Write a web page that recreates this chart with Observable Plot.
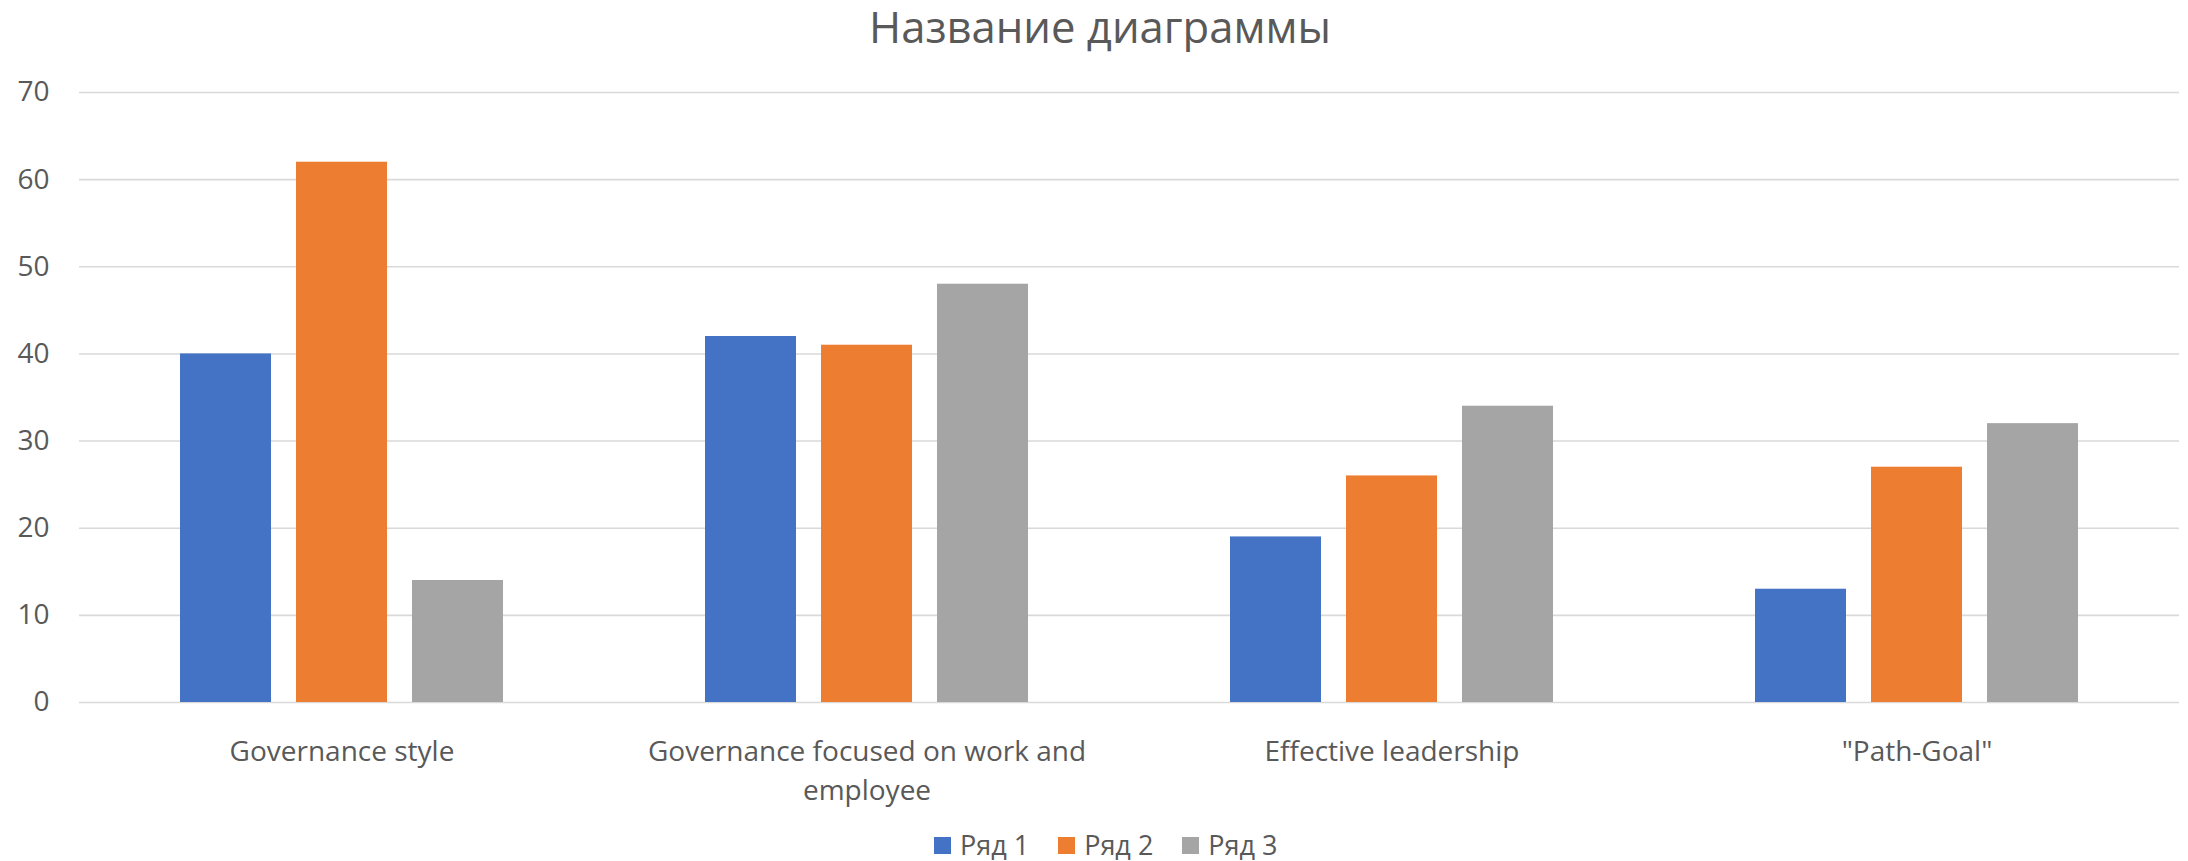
<!DOCTYPE html>
<html>
<head>
<meta charset="utf-8">
<script src="https://cdn.jsdelivr.net/npm/d3@7"></script>
<script src="https://cdn.jsdelivr.net/npm/@observablehq/plot@0.6"></script>
<style>
  html, body { margin: 0; padding: 0; background: #fff; }
  body { width: 2188px; height: 861px; overflow: hidden; position: relative; font-family: "Open Sans", "Noto Sans", sans-serif; color: #595959; }
  #title { position: absolute; top: 0; left: 0; width: 2188px; padding-left: 12px; box-sizing: border-box; text-align: center; font-size: 43.6px; line-height: 52px; color: #595959; }
  #chart { position: absolute; top: 52px; left: 0; }
  #legend { position: absolute; left: 934px; top: 827px; display: flex; align-items: center; font-size: 27px; line-height: 36px; color: #595959; }
  .item { display: flex; align-items: center; margin-right: 29px; }
  .sw { width: 17px; height: 17px; margin-right: 9px; }
</style>
</head>
<body>
<div id="title">Название диаграммы</div>
<div id="chart"></div>
<div id="legend"></div>
<script>
const categories = ["Governance style", "Governance focused on work and employee", "Effective leadership", "\"Path-Goal\""];
const categoryLabels = ["Governance style", "Governance focused on work and\nemployee", "Effective leadership", "\"Path-Goal\""];
const seriesNames = ["Ряд 1", "Ряд 2", "Ряд 3"];
const series1 = [40, 42, 19, 13];
const series2 = [62, 41, 26, 27];
const series3 = [14, 48, 34, 32];
const colors = ["#4472c4", "#ed7d31", "#a5a5a5"];
const yTicks = [0, 10, 20, 30, 40, 50, 60, 70];

const allSeries = [series1, series2, series3];
const data = categories.flatMap((c, i) => allSeries.map((s, j) => ({category: c, series: seriesNames[j], value: s[i]})));

const chart = Plot.plot({
  width: 2188,
  height: 770,
  marginLeft: 77,
  marginRight: 8,
  marginTop: 40,
  marginBottom: 120,
  style: {fontFamily: "'Open Sans', 'Noto Sans', sans-serif", color: "#595959", background: "white", overflow: "visible"},
  fx: {domain: categories, padding: 0},
  x: {domain: seriesNames, paddingInner: 0.2146, paddingOuter: 0.864, axis: null},
  y: {domain: [0, 70]},
  color: {domain: seriesNames, range: colors},
  marks: [
    Plot.gridY(yTicks, {stroke: "#d9d9d9", strokeOpacity: 1, strokeWidth: 1.6}),
    Plot.axisY(yTicks, {tickSize: 0, tickPadding: 30, fontSize: 28, label: null, fill: "#595959"}),
    Plot.axisFx({anchor: "bottom", tickSize: 0, tickPadding: 31, fontSize: 28, label: null, lineHeight: 1.39, fill: "#595959",
      tickFormat: d => categoryLabels[categories.indexOf(d)]}),
    Plot.barY(data, {fx: "category", x: "series", y: "value", fill: "series"})
  ]
});
document.getElementById("chart").appendChild(chart);

const legend = document.getElementById("legend");
seriesNames.forEach((name, i) => {
  const item = document.createElement("div");
  item.className = "item";
  const sw = document.createElement("div");
  sw.className = "sw";
  sw.style.background = colors[i];
  const t = document.createElement("span");
  t.textContent = name;
  item.appendChild(sw);
  item.appendChild(t);
  legend.appendChild(item);
});
</script>
</body>
</html>
